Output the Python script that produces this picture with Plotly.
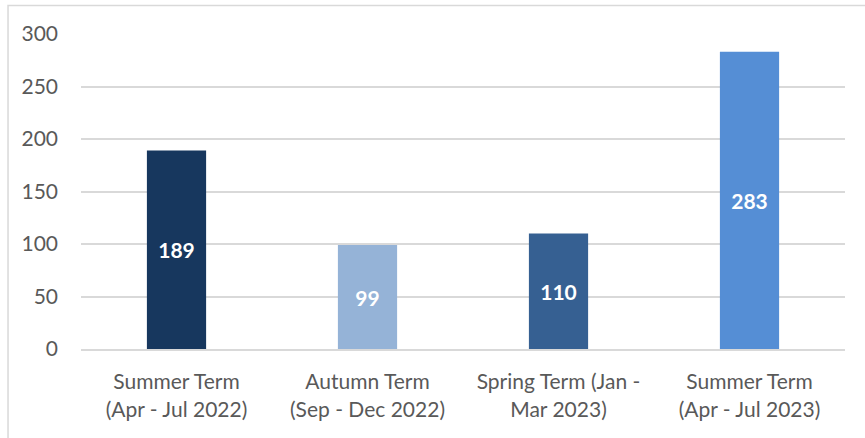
import plotly.graph_objects as go

# Data
terms = [
    "Summer Term<br>(Apr - Jul 2022)",
    "Autumn Term<br>(Sep - Dec 2022)",
    "Spring Term (Jan -<br>Mar 2023)",
    "Summer Term<br>(Apr - Jul 2023)",
]
counts = [189, 99, 110, 283]
bar_colors = ["#17375E", "#95B3D7", "#366092", "#558ED5"]

y_ticks = [0, 50, 100, 150, 200, 250, 300]

FONT = "Lato, Calibri, Carlito, sans-serif"
GRID = "#D9D9D9"
TEXT = "#595959"

fig = go.Figure(go.Bar(
    x=terms,
    y=counts,
    marker=dict(color=bar_colors, line=dict(width=0)),
    text=[str(c) for c in counts],
    textposition="inside",
    insidetextanchor="middle",
    textangle=0,
    textfont=dict(family=FONT, size=21, color="white", weight="bold"),
    hoverinfo="x+y",
))

fig.update_layout(
    width=865,
    height=438,
    margin=dict(l=81, r=20, t=34, b=89),
    paper_bgcolor="white",
    plot_bgcolor="white",
    bargap=0.69,
    showlegend=False,
    font=dict(family=FONT, size=21, color=TEXT),
    xaxis=dict(
        showgrid=False,
        showline=True,
        linecolor=GRID,
        linewidth=2,
        ticks="",
        ticklabelstandoff=13,
        tickfont=dict(family=FONT, size=21, color=TEXT),
    ),
    yaxis=dict(
        range=[0, 300],
        tickvals=y_ticks,
        showgrid=True,
        gridcolor=GRID,
        gridwidth=1.5,
        zeroline=False,
        showline=False,
        ticks="",
        ticklabelstandoff=22,
        tickfont=dict(family=FONT, size=21, color=TEXT),
    ),
)

# Chart-area border (partially cropped in the original)
fig.add_shape(
    type="rect", xref="paper", yref="paper",
    x0=-0.0955, x1=1.5, y0=-0.5, y1=1.0905,
    line=dict(color=GRID, width=1.5),
    layer="below",
)

# drop the default 8px body margin so the figure sits at the window corner
fig.write_html(
    "out.html",
    config={"displayModeBar": False},
    post_script="document.body.style.margin='0';",
)
